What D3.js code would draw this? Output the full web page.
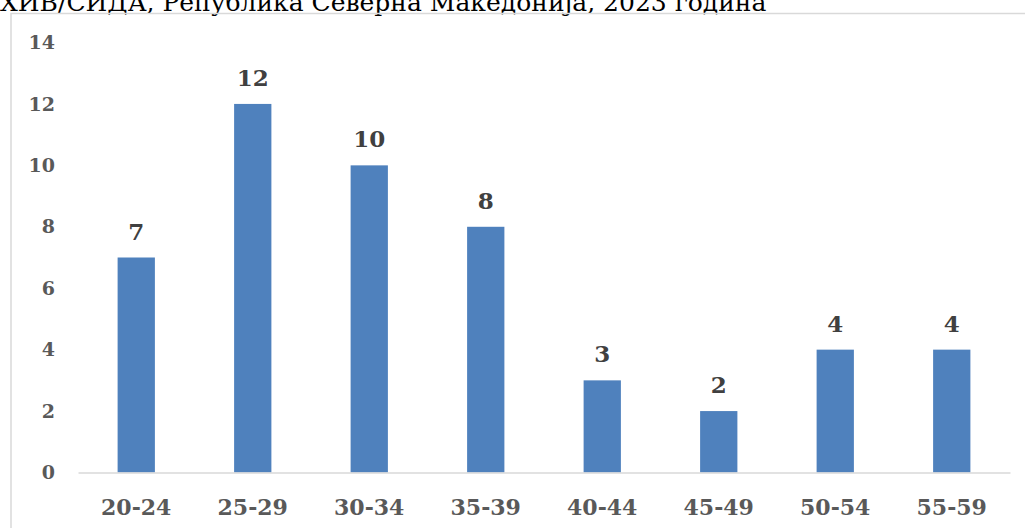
<!DOCTYPE html>
<html>
<head>
<meta charset="UTF-8">
<script src="https://cdn.jsdelivr.net/npm/d3@7"></script>
<style>
    body { margin: 0; background: #fff; }
    svg { display: block; }
</style>
</head>
<body>
<div id="chart"></div>
<script>
    // chart data
    const ageGroups = ["20-24", "25-29", "30-34", "35-39", "40-44", "45-49", "50-54", "55-59"];
    const cases = [7, 12, 10, 8, 3, 2, 4, 4];
    const yTicks = [0, 2, 4, 6, 8, 10, 12, 14];
    const titleText = "ХИВ/СИДА, Република Северна Македонија, 2023 година";

    const width = 1025, height = 528;
    const font = "'DejaVu Serif', 'Liberation Serif', serif";

    const svg = d3.select("#chart").append("svg")
        .attr("width", width)
        .attr("height", height);

    // title, cut off by the top edge like in the source
    svg.append("text")
        .attr("x", 0).attr("y", 11)
        .style("font-family", font)
        .style("font-size", "25px")
        .attr("fill", "#000")
        .text(titleText);

    // chart frame
    svg.append("rect")
        .attr("x", 11).attr("y", 13.5)
        .attr("width", width + 10).attr("height", height)
        .attr("fill", "none")
        .attr("stroke", "#d9d9d9")
        .attr("stroke-width", 1.5);

    const x = d3.scaleBand().domain(ageGroups).range([78, 1010]).paddingInner(0.68).paddingOuter(0.34);
    const y = d3.scaleLinear().domain([0, 14]).range([472.5, 42.5]);

    // y axis labels (no line)
    const yAxis = svg.append("g")
        .attr("transform", "translate(55,0)")
        .call(d3.axisLeft(y).tickValues(yTicks).tickSize(0).tickPadding(0));
    yAxis.select(".domain").remove();
    yAxis.selectAll("text")
        .style("font-family", font)
        .style("font-size", "19px")
        .style("font-weight", "bold")
        .attr("fill", "#595959");

    // bars
    svg.selectAll("rect.bar")
        .data(cases)
        .enter()
        .append("rect")
        .attr("class", "bar")
        .attr("x", (d, i) => x(ageGroups[i]))
        .attr("y", d => y(d))
        .attr("width", x.bandwidth())
        .attr("height", d => y(0) - y(d))
        .attr("fill", "#4f81bd");

    // x axis
    const xAxis = svg.append("g")
        .attr("transform", "translate(0," + y(0) + ")")
        .call(d3.axisBottom(x).tickSize(0));
    xAxis.select(".domain").attr("stroke", "#d9d9d9").attr("stroke-width", 1.5);
    xAxis.selectAll("text")
        .attr("y", 42.5)
        .attr("dy", null)
        .style("font-family", font)
        .style("font-size", "22px")
        .style("font-weight", "bold")
        .attr("fill", "#595959");

    // value labels
    svg.selectAll("text.value")
        .data(cases)
        .enter()
        .append("text")
        .attr("class", "value")
        .attr("x", (d, i) => x(ageGroups[i]) + x.bandwidth() / 2)
        .attr("y", d => y(d) - 18)
        .attr("text-anchor", "middle")
        .style("font-family", font)
        .style("font-size", "23px")
        .style("font-weight", "bold")
        .attr("fill", "#404040")
        .text(d => d);
</script>
</body>
</html>
